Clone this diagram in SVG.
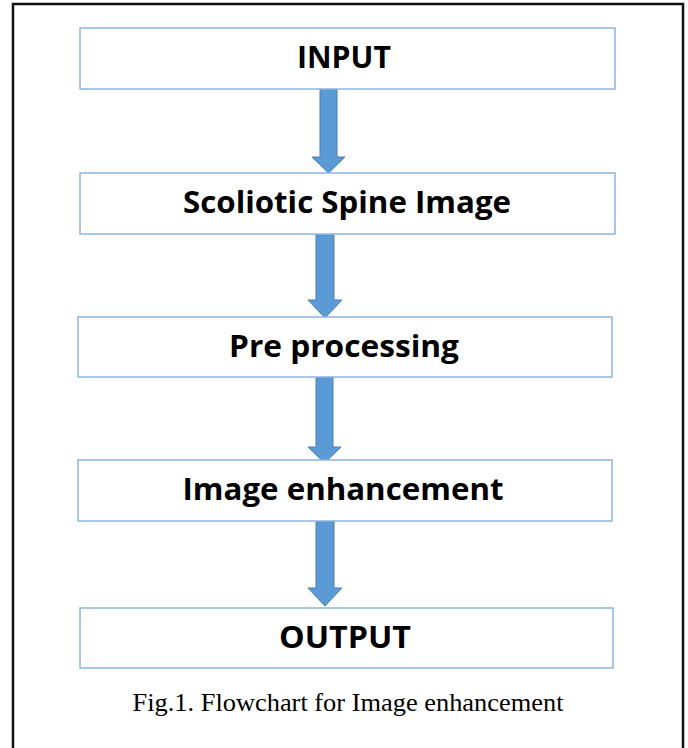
<svg xmlns="http://www.w3.org/2000/svg" width="688" height="748" viewBox="0 0 688 748">
<defs>
<style>
.box{fill:#ffffff;stroke:#8db4e2;stroke-width:1.5}
.lbl{font-family:"Open Sans","Liberation Sans",sans-serif;font-weight:bold;font-size:30px;fill:#000;text-anchor:middle}
.arr{fill:#5b9bd5;stroke:#4a7ebb;stroke-width:1}
.cap{font-family:"Liberation Serif","Times New Roman",serif;font-size:25.5px;fill:#000;text-anchor:middle}
</style>
</defs>
<rect x="0" y="0" width="688" height="748" fill="#ffffff"/>
<rect x="13" y="4" width="670" height="760" fill="none" stroke="#111" stroke-width="2.5"/>
<g id="connectors">
<path class="arr" d="M320,89 L337,89 L337,157 L345,157 L328.5,173 L312,157 L320,157 Z"/>
<path class="arr" d="M316,235 L334,235 L334,300 L342,300 L325,318 L308,300 L316,300 Z"/>
<path class="arr" d="M316,377 L333,377 L333,447 L341,447 L324.5,463 L308,447 L316,447 Z"/>
<path class="arr" d="M316,521 L334,521 L334,588 L342,588 L325,606 L308,588 L316,588 Z"/>
</g>
<g id="input">
<rect class="box" x="80" y="28" width="535" height="61"/>
<text class="lbl" x="344" y="68" textLength="94" lengthAdjust="spacingAndGlyphs">INPUT</text>
</g>
<g id="spine">
<rect class="box" x="80" y="173" width="535" height="61"/>
<text class="lbl" x="347" y="213" textLength="328" lengthAdjust="spacingAndGlyphs">Scoliotic Spine Image</text>
</g>
<g id="preproc">
<rect class="box" x="78" y="317" width="534" height="60"/>
<text class="lbl" x="344" y="357" textLength="230" lengthAdjust="spacingAndGlyphs">Pre processing</text>
</g>
<g id="enhance">
<rect class="box" x="78" y="460" width="534" height="61"/>
<text class="lbl" x="343" y="500" textLength="321" lengthAdjust="spacingAndGlyphs">Image enhancement</text>
</g>
<g id="output">
<rect class="box" x="80" y="608" width="533" height="60"/>
<text class="lbl" x="345" y="648" textLength="132" lengthAdjust="spacingAndGlyphs">OUTPUT</text>
</g>
<text class="cap" x="348" y="711" textLength="431" lengthAdjust="spacingAndGlyphs">Fig.1. Flowchart for Image enhancement</text>
</svg>
